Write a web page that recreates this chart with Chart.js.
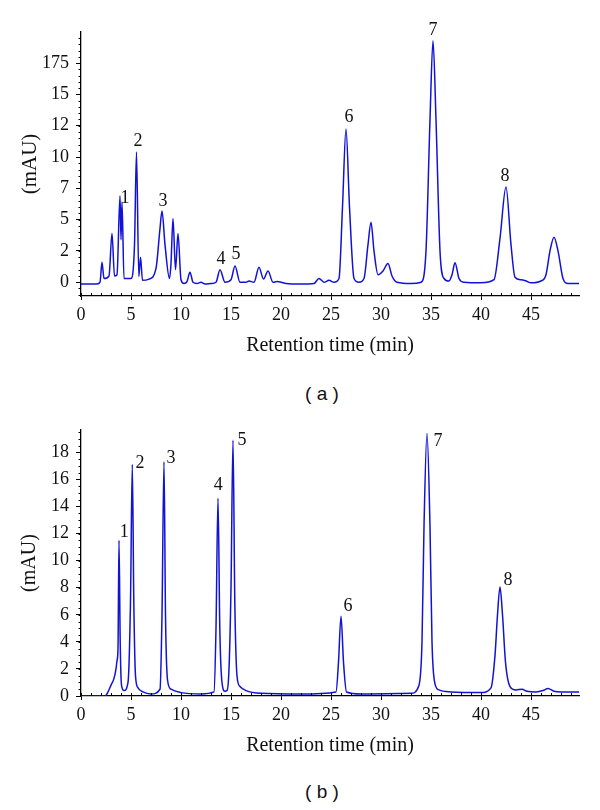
<!DOCTYPE html>
<html>
<head>
<meta charset="utf-8">
<script src="https://cdn.jsdelivr.net/npm/chart.js@4/dist/chart.umd.min.js"></script>
<style>
  body { margin: 0; background: #fff; }
  #page { position: relative; width: 600px; height: 810px; }
  canvas { position: absolute; left: 0; }
  #chartA { top: 0; }
  #chartB { top: 400px; }
  .caption { position: absolute; left: 0; width: 644px; text-align: center;
             font: 19px "Liberation Sans", Arial, sans-serif; color: #111; }
</style>
</head>
<body>
<div id="page">
  <canvas id="chartA" width="600" height="370"></canvas>
  <div class="caption" style="top:383px">( a )</div>
  <canvas id="chartB" width="600" height="370"></canvas>
  <div class="caption" style="top:781px">( b )</div>
</div>
<script>
// хроматограмма (a): время, мин / сигнал
var timeA = [0, 1.5, 1.9, 2.1, 2.3, 2.8, 3.1, 3.35, 3.6, 3.9, 4.0, 4.1, 4.3, 5.0, 5.35, 5.55, 5.78,
  5.95, 6.15, 6.8, 7.5, 7.9, 8.1, 8.4, 8.85, 9.0, 9.2, 9.45, 9.7, 10.0, 10.3, 10.6, 10.9, 11.2,
  11.6, 12.0, 12.4, 13.0, 13.5, 13.9, 14.4, 15.0, 15.4, 15.9, 16.5, 16.8, 17.3, 17.8, 18.25, 18.7,
  19.2, 19.6, 20.0, 20.5, 22.0, 23.3, 23.8, 24.3, 24.8, 25.3, 25.8, 26.15, 26.5, 26.85, 27.3, 27.8,
  28.3, 28.7, 29.0, 29.3, 29.7, 30.2, 30.7, 31.1, 31.6, 33.0, 34.0, 34.5, 34.9, 35.2, 35.5, 35.9,
  36.3, 36.8, 37.1, 37.4, 37.8, 38.3, 40.0, 41.3, 41.9, 42.5, 43.0, 43.4, 44.0, 44.5, 45.0, 46.0,
  46.5, 46.9, 47.3, 47.7, 48.2, 48.7, 49.8];
var signalA = [-0.15, -0.15, 0.0, 1.6, 0.3, 0.5, 3.9, 0.5, 0.6, 6.9, 3.4, 6.4, 0.3, 0.3, 3.0, 10.4, 0.45,
  2.0, 0.15, 0.25, 1.1, 4.3, 5.7, 3.0, 0.3, 1.5, 5.1, 1.0, 3.9, 0.2, -0.1, 0.05, 0.8, 0.0,
  -0.1, 0.0, -0.15, -0.1, 0.0, 1.0, 0.0, 0.2, 1.3, 0.0, 0.0, 0.1, 0.0, 1.2, 0.25, 0.9,
  0.0, 0.05, 0.0, -0.1, -0.15, -0.1, 0.3, 0.0, 0.15, 0.0, 0.3, 6.0, 12.25, 6.0, 0.3, 0.0,
  0.3, 3.0, 4.8, 2.5, 0.6, 0.9, 1.5, 0.5, 0.0, -0.1, 0.0, 2.5, 13.0, 19.3, 13.0, 2.5,
  0.3, 0.1, 0.6, 1.55, 0.3, 0.0, -0.05, 0.2, 3.5, 7.6, 3.0, 0.4, 0.2, 0.1, -0.05, 0.1,
  0.6, 2.5, 3.6, 2.5, 0.3, -0.1, -0.1];

// хроматограмма (b)
var timeB = [0, 2.4, 2.7, 3.0, 3.3, 3.5, 3.6, 3.7, 3.8, 3.92, 4.05, 4.3, 4.7, 4.95, 5.13, 5.28, 5.45,
  5.7, 6.2, 7.0, 7.9, 8.1, 8.3, 8.45, 8.65, 9.0, 10.0, 12.0, 13.3, 13.5, 13.7, 13.88, 14.1, 14.4,
  14.6, 14.8, 15.0, 15.2, 15.38, 15.6, 15.9, 16.5, 18.0, 22.0, 25.5, 25.75, 26.0, 26.25, 26.55,
  28.0, 33.0, 33.8, 34.1, 34.3, 34.6, 34.9, 35.1, 35.4, 35.8, 37.0, 40.0, 41.0, 41.4, 41.65,
  41.9, 42.15, 42.45, 42.9, 43.5, 44.1, 44.6, 45.5, 46.2, 46.7, 47.3, 48.0, 49.8];
var signalB = [0.0, 0.0, 0.3, 0.8, 1.3, 2.0, 2.6, 3.5, 11.5, 4.0, 0.8, 0.4, 1.0, 7.0, 17.1, 7.0, 1.5,
  0.6, 0.3, 0.15, 0.5, 6.0, 17.3, 6.0, 1.2, 0.5, 0.25, 0.15, 0.3, 5.0, 14.6, 5.0, 1.0, 0.35,
  0.4, 2.0, 8.0, 18.9, 7.0, 1.5, 0.7, 0.4, 0.2, 0.15, 0.3, 2.5, 5.9, 2.5, 0.3,
  0.15, 0.2, 0.8, 4.0, 12.5, 19.4, 12.5, 4.0, 0.9, 0.45, 0.3, 0.25, 0.6, 3.0, 6.0,
  8.05, 6.0, 2.5, 0.7, 0.45, 0.5, 0.35, 0.3, 0.4, 0.55, 0.35, 0.3, 0.3];

// подписи пиков
var peakNames = ['1', '2', '3', '4', '5', '6', '7', '8'];
var peakTimeA = [4.4, 5.7, 8.2, 14.0, 15.5, 26.8, 35.2, 42.4];
var peakLevelA = [6.67, 11.3, 6.5, 1.85, 2.2, 13.15, 20.1, 8.46];
var peakTimeB = [4.33, 5.9, 9.0, 13.73, 16.1, 26.7, 35.7, 42.7];
var peakLevelB = [12.1, 17.2, 17.55, 15.6, 18.9, 6.63, 18.8, 8.56];

// подписи оси y на графике (a) - как в оригинале
var yTickLabelsA = ['0', '2', '5', '7', '10', '12', '15', '175'];

var serif = '"Liberation Serif", "Times New Roman", serif';
var lineColor = '#1212d6';

function points(xs, ys) {
    return xs.map(function (x, i) { return { x: x, y: ys[i] }; });
}

// мелкие засечки на осях
var minorTicks = {
    id: 'minorTicks',
    afterDraw: function (chart, args, opts) {
        var ctx = chart.ctx, x = chart.scales.x, y = chart.scales.y;
        ctx.save();
        ctx.strokeStyle = '#000';
        ctx.lineWidth = 1;
        ctx.beginPath();
        for (var v = Math.ceil(x.min); v <= x.max; v += 1) {
            var px = Math.round(x.getPixelForValue(v)) + 0.5;
            ctx.moveTo(px, y.bottom);
            ctx.lineTo(px, y.bottom - 3);
        }
        for (var w = Math.ceil(y.min / opts.step) * opts.step; w <= y.max; w += opts.step) {
            var py = Math.round(y.getPixelForValue(w)) + 0.5;
            ctx.moveTo(x.left, py);
            ctx.lineTo(x.left - 2.5, py);
        }
        ctx.stroke();
        ctx.restore();
    }
};

// номера пиков
var peakLabels = {
    id: 'peakLabels',
    afterDraw: function (chart, args, opts) {
        var ctx = chart.ctx, x = chart.scales.x, y = chart.scales.y;
        ctx.save();
        ctx.fillStyle = '#111';
        ctx.font = '18px ' + serif;
        ctx.textAlign = 'center';
        ctx.textBaseline = 'middle';
        opts.names.forEach(function (name, i) {
            ctx.fillText(name, x.getPixelForValue(opts.xs[i]), y.getPixelForValue(opts.ys[i]));
        });
        ctx.restore();
    }
};

function makeChart(id, data, yOpts, peaks, topPad, titleSize) {
    return new Chart(document.getElementById(id), {
        type: 'line',
        data: {
            datasets: [{
                data: data,
                borderColor: lineColor,
                borderWidth: 1.5,
                pointRadius: 0,
                cubicInterpolationMode: 'monotone',
                fill: false
            }]
        },
        options: {
            responsive: false,
            animation: false,
            layout: { padding: { top: topPad, right: 21, left: 0, bottom: 0 } },
            plugins: {
                legend: { display: false },
                tooltip: { enabled: false },
                minorTicks: { step: 0.5 },
                peakLabels: peaks
            },
            scales: {
                x: {
                    type: 'linear',
                    min: 0,
                    max: 49.8,
                    afterFit: function (s) { s.height = 74; },
                    ticks: { stepSize: 5, includeBounds: false, padding: 4, color: '#111',
                             font: { family: serif, size: 18 } },
                    grid: { drawOnChartArea: false, tickLength: 4, color: '#000' },
                    border: { color: '#000', width: 1.3 },
                    title: { display: true, text: 'Retention time (min)', color: '#111',
                             font: { family: serif, size: 20 }, padding: { top: 0, bottom: 12 } }
                },
                y: {
                    min: yOpts.min,
                    max: yOpts.max,
                    afterFit: function (s) { s.width = 81; },
                    ticks: { stepSize: yOpts.step, includeBounds: false, padding: 7, color: '#111',
                             font: { family: serif, size: 18 }, callback: yOpts.label },
                    grid: { drawOnChartArea: false, tickLength: 5, color: '#000' },
                    border: { color: '#000', width: 1.3 },
                    title: { display: true, text: '(mAU)', color: '#111',
                             font: { family: serif, size: titleSize }, padding: { top: 18, bottom: 0 } }
                }
            }
        },
        plugins: [minorTicks, peakLabels]
    });
}

makeChart('chartA', points(timeA, signalA),
    { min: -1.1, max: 19.99, step: 2.5,
      label: function (v) { var k = Math.round(v / 2.5); return yTickLabelsA[k] || ''; } },
    { names: peakNames, xs: peakTimeA, ys: peakLevelA }, 32, 21);

makeChart('chartB', points(timeB, signalB),
    { min: 0, max: 19.65, step: 2,
      label: function (v) { return String(v); } },
    { names: peakNames, xs: peakTimeB, ys: peakLevelB }, 30, 20);
</script>
</body>
</html>
